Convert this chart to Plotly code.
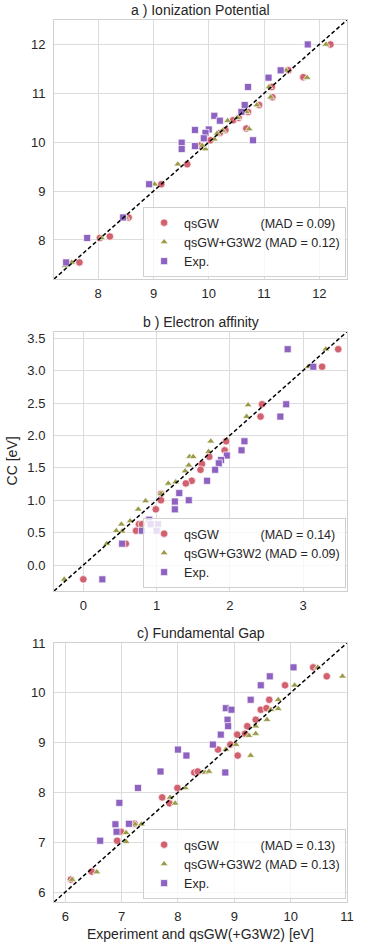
import plotly.graph_objects as go

# ---- data: (x = method value, y = CC value) per panel ----
# a) Ionization potential
ip_exp_x = [11.79, 11.30, 11.08, 10.71, 10.65, 10.59, 10.10, 10.20, 9.75, 10.00, 9.94, 9.91, 10.80, 9.51, 9.51, 9.75, 8.92, 8.45, 7.80, 7.42]
ip_exp_y = [12.00, 11.47, 11.32, 11.13, 10.76, 10.62, 10.54, 10.44, 10.25, 10.26, 10.19, 10.08, 10.04, 9.99, 9.86, 9.92, 9.14, 8.46, 8.04, 7.54]
ip_gw_x = [12.20, 11.44, 11.71, 11.14, 11.15, 10.91, 10.71, 10.68, 10.44, 10.54, 10.30, 10.20, 10.03, 9.83, 9.61, 9.14, 8.55, 8.03, 8.21, 7.66]
ip_gw_y = [12.00, 11.47, 11.33, 11.13, 10.92, 10.76, 10.62, 10.28, 10.45, 10.50, 10.25, 10.19, 10.04, 9.93, 9.55, 9.14, 8.46, 8.04, 8.07, 7.54]
ip_g3_x = [12.12, 11.40, 11.78, 11.09, 11.12, 10.87, 10.68, 10.73, 10.34, 10.52, 10.25, 10.15, 10.10, 9.94, 9.88, 9.44, 9.02, 8.50, 8.06, 7.52, 7.40]
ip_g3_y = [12.00, 11.47, 11.32, 11.13, 10.92, 10.76, 10.62, 10.27, 10.44, 10.50, 10.24, 10.18, 10.06, 9.86, 9.93, 9.55, 9.14, 8.46, 8.04, 7.54, 7.47]

# b) Electron affinity
ea_exp_x = [2.79, 3.14, 2.77, 2.69, 2.20, 2.16, 1.96, 1.88, 1.85, 1.80, 1.69, 1.31, 1.44, 1.25, 1.25, 0.90, 0.92, 1.02, 0.80, 1.00, 0.53, 0.26]
ea_exp_y = [3.33, 3.06, 2.48, 2.29, 1.91, 1.77, 1.69, 1.62, 1.57, 1.47, 1.30, 1.11, 1.00, 0.98, 0.86, 0.70, 0.63, 0.63, 0.53, 0.53, 0.33, -0.22]
ea_gw_x = [3.48, 3.26, 2.44, 2.42, 1.95, 1.93, 1.72, 1.62, 1.60, 1.48, 1.40, 1.06, 1.06, 0.99, 0.76, 0.72, 0.80, 0.58, 0.00]
ea_gw_y = [3.33, 3.06, 2.48, 2.29, 1.91, 1.77, 1.67, 1.56, 1.47, 1.30, 1.26, 1.10, 1.00, 0.86, 0.63, 0.53, 0.63, 0.33, -0.22]
ea_g3_x = [3.31, 3.07, 2.25, 2.23, 1.74, 1.71, 1.45, 1.50, 1.44, 1.39, 1.26, 1.16, 1.06, 0.85, 0.75, 0.64, 0.52, 0.45, 0.53, 0.32, -0.26]
ea_g3_y = [3.33, 3.06, 2.47, 2.29, 1.91, 1.75, 1.67, 1.67, 1.54, 1.45, 1.28, 1.26, 1.10, 0.99, 0.86, 0.68, 0.63, 0.53, 0.52, 0.33, -0.22]

# c) Fundamental gap
fg_exp_x = [10.05, 9.63, 9.47, 9.29, 8.85, 8.95, 8.88, 8.89, 8.76, 8.62, 8.00, 8.15, 7.69, 8.84, 7.29, 6.96, 6.89, 7.13, 6.91, 6.62]
fg_exp_y = [10.51, 10.33, 10.15, 9.86, 9.69, 9.66, 9.46, 9.33, 9.16, 8.96, 8.86, 8.74, 8.42, 8.40, 8.09, 7.79, 7.36, 7.37, 7.21, 7.03]
fg_gw_x = [10.40, 10.64, 9.90, 9.62, 9.47, 9.57, 9.38, 9.23, 9.05, 9.19, 8.93, 8.71, 9.06, 8.29, 8.35, 7.99, 7.72, 7.85, 7.23, 6.99, 6.92, 6.47, 6.10]
fg_gw_y = [10.51, 10.33, 10.15, 9.86, 9.66, 9.69, 9.46, 9.33, 9.16, 9.18, 8.96, 8.86, 8.74, 8.40, 8.42, 8.09, 7.90, 7.78, 7.37, 7.21, 7.03, 6.41, 6.25]
fg_g3_x = [10.48, 10.92, 10.07, 9.78, 9.65, 9.78, 9.58, 9.38, 9.26, 9.38, 9.03, 8.85, 9.29, 8.48, 8.55, 8.13, 7.86, 7.95, 7.24, 7.35, 7.08, 7.08, 6.56, 6.12]
fg_g3_y = [10.51, 10.33, 10.15, 9.86, 9.66, 9.68, 9.46, 9.33, 9.14, 9.18, 8.96, 8.86, 8.74, 8.40, 8.42, 8.09, 7.90, 7.78, 7.36, 7.36, 7.19, 7.01, 6.40, 6.25]

titles = ["a ) Ionization Potential", "b ) Electron affinity", "c) Fundamental Gap"]
mad_gw = ["0.09", "0.14", "0.13"]
mad_g3 = ["0.12", "0.09", "0.13"]

panels = [
    (ip_gw_x, ip_gw_y, ip_g3_x, ip_g3_y, ip_exp_x, ip_exp_y),
    (ea_gw_x, ea_gw_y, ea_g3_x, ea_g3_y, ea_exp_x, ea_exp_y),
    (fg_gw_x, fg_gw_y, fg_g3_x, fg_g3_y, fg_exp_x, fg_exp_y),
]
ranges = [(7.2, 12.5), (-0.4, 3.6), (5.8, 11.0)]
ydomains = [(0.7063, 1.0), (0.3526, 0.6466), (0.0, 0.2937)]
legend_y = [0.7086, 0.356, 0.0034]

col_gw = '#d1616e'
col_g3 = '#9b9a47'
col_exp = '#8e62c0'
grid = '#dcdcdc'
font = 'Liberation Sans, Arial, sans-serif'
nb = '\u00a0'

fig = go.Figure()
for i, (gx, gy, tx, ty, ex, ey) in enumerate(panels):
    ax = '' if i == 0 else str(i + 1)
    leg = 'legend' if i == 0 else 'legend' + str(i + 1)
    common = dict(mode='markers', xaxis='x' + ax, yaxis='y' + ax, legend=leg)
    fig.add_trace(go.Scatter(x=gx, y=gy, name='qsGW' + nb * 12 + '(MAD = ' + mad_gw[i] + ')',
                             marker=dict(symbol='circle', size=7.5, color=col_gw, line=dict(color='white', width=0.7)),
                             **common))
    fig.add_trace(go.Scatter(x=tx, y=ty, name='qsGW+G3W2 (MAD = ' + mad_g3[i] + ')',
                             marker=dict(symbol='triangle-up', size=7, color=col_g3, line=dict(color='white', width=0.7)),
                             **common))
    fig.add_trace(go.Scatter(x=ex, y=ey, name='Exp.',
                             marker=dict(symbol='square', size=7, color=col_exp, line=dict(color='white', width=0.7)),
                             **common))
    lo, hi = ranges[i]
    fig.add_trace(go.Scatter(x=[lo, hi], y=[lo, hi], mode='lines', showlegend=False, hoverinfo='skip',
                             line=dict(color='black', dash='4px,2.5px', width=1.5),
                             xaxis='x' + ax, yaxis='y' + ax))

    axis_style = dict(showgrid=True, gridcolor=grid, gridwidth=1, zeroline=False,
                      showline=True, linecolor='#d0d0d0', linewidth=1, mirror=True,
                      ticks='outside', tickcolor='rgba(0,0,0,0)',
                      tickfont=dict(size=13, color='#262626'), range=[lo, hi])
    xkw = dict(axis_style, domain=[0, 1], anchor='y' + ax, dtick=1, ticklen=2)
    ykw = dict(axis_style, domain=list(ydomains[i]), anchor='x' + ax, dtick=0.5 if i == 1 else 1, ticklen=5)
    if i == 1:
        ykw['tickformat'] = '.1f'
    fig.update_layout({'xaxis' + ax: xkw, 'yaxis' + ax: ykw})

    fig.update_layout({leg: dict(x=0.997, xanchor='right', y=legend_y[i], yanchor='bottom',
                                 bgcolor='rgba(255,255,255,0.8)', bordercolor='#d0d0d0', borderwidth=1,
                                 font=dict(size=12.5, color='#262626', family=font),
                                 tracegroupgap=0, itemsizing='trace')})

    fig.add_annotation(text=titles[i], xref='paper', yref='paper', x=0.5, y=ydomains[i][1],
                       xanchor='center', yanchor='bottom', yshift=0, showarrow=False,
                       font=dict(size=14, color='#262626'))

fig.add_annotation(text='CC [eV]', xref='paper', yref='paper', x=-0.142, y=0.5,
                   xanchor='center', yanchor='middle', textangle=-90, showarrow=False,
                   font=dict(size=14, color='#262626'))
fig.add_annotation(text='Experiment and qsGW(+G3W2) [eV]', xref='paper', yref='paper', x=0.5, y=0,
                   xanchor='center', yanchor='top', yshift=-22, showarrow=False,
                   font=dict(size=14, color='#262626'))

fig.update_layout(width=366, height=946, margin=dict(l=54, r=16, t=20, b=44),
                  paper_bgcolor='white', plot_bgcolor='white',
                  font=dict(family=font, color='#262626'))

# drop the browser's default body margin so the figure sits at the page corner
fig.write_html("out.html", config={'displayModeBar': False},
               post_script="document.body.style.margin='0';")
